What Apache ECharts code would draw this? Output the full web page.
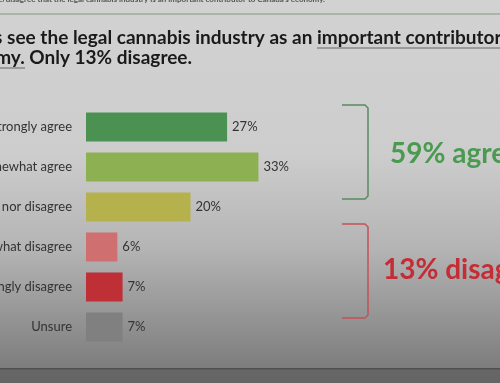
<!DOCTYPE html>
<html><head><meta charset="utf-8">
<script src="https://cdn.jsdelivr.net/npm/echarts@6/dist/echarts.min.js"></script>
<style>html,body{margin:0;padding:0;background:#cfcfcf}#c{width:500px;height:383px}</style>
</head><body><div id="c"></div>
<script>
const categories = ["Strongly agree","Somewhat agree","Neither agree nor disagree","Somewhat disagree","Strongly disagree","Unsure"];
const values = [27,33,20,6,7,7];
const barColors = ["#4b9152","#8db052","#b5b14c","#cf6f70","#bf2f36","#808080"];
const titleLine1a = "Most Canadians see the legal cannabis industry as an ";
const titleLine1b = "important contributor to the";
const titleLine2 = "economy. Only 13% disagree.";
const subText = "Agree/disagree that the legal cannabis industry is an important contributor to Canada's economy.";
const agreeText = "59% agree";
const disagreeText = "13% disagree";

const chart = echarts.init(document.getElementById('c'), null, {renderer:'canvas'});
const FONT = 'Lato';
chart.setOption({
  animation:false,
  backgroundColor:{type:'linear',x:0,y:0,x2:0,y2:1,colorStops:[
    {offset:0,color:'#d2d2d2'},{offset:0.4,color:'#cdcdcd'},{offset:0.65,color:'#b4b4b4'},{offset:0.96,color:'#7d7d7d'},{offset:0.961,color:'#4a4a4a'},{offset:0.967,color:'#666666'},{offset:1,color:'#656565'}]},
  grid:{left:86,top:107,width:209,height:240,containLabel:false,outerBoundsMode:'none'},
  xAxis:{type:'value',min:0,max:40,show:false},
  yAxis:{type:'category',data:categories,inverse:true,
    axisLine:{show:false},axisTick:{show:false},splitLine:{show:false},
    axisLabel:{margin:14,color:'#333',fontFamily:FONT,fontSize:13,hideOverlap:false}},
  series:[{type:'bar',barWidth:29,
    data:values.map((v,i)=>({value:v,itemStyle:{color:barColors[i]}})),
    label:{show:true,position:'right',distance:5,formatter:'{c}%',color:'#333',fontFamily:FONT,fontSize:13}}],
  graphic:[
    {type:'text',x:325,y:-1,style:{text:subText,fill:'#555',font:'bold 8px '+FONT,textAlign:'right',textVerticalAlign:'middle'}},
    {type:'line',shape:{x1:0,y1:14,x2:500,y2:14},style:{stroke:'#9aab9a',lineWidth:1.5}},
    {type:'text',x:317,y:38,style:{text:titleLine1a,fill:'#1a1a1a',font:'bold 19px '+FONT,textAlign:'right',textVerticalAlign:'middle'}},
    {type:'text',x:317,y:38,style:{text:titleLine1b,fill:'#1a1a1a',font:'bold 19px '+FONT,textAlign:'left',textVerticalAlign:'middle'}},
    {type:'line',shape:{x1:317,y1:48,x2:500,y2:48},style:{stroke:'#666',lineWidth:1}},
    {type:'text',x:192,y:58,style:{text:titleLine2,fill:'#1a1a1a',font:'bold 19px '+FONT,textAlign:'right',textVerticalAlign:'middle'}},
    {type:'line',shape:{x1:0,y1:68,x2:25,y2:68},style:{stroke:'#666',lineWidth:1}},
    {type:'polyline',shape:{points:[[342,105],[365,105],[368,108],[368,196],[365,199],[342,199]]},style:{stroke:'#5a8a62',lineWidth:1.5,fill:null}},
    {type:'polyline',shape:{points:[[342,224],[365,224],[368,227],[368,315],[365,318],[342,318]]},style:{stroke:'#c4525a',lineWidth:1.5,fill:null}},
    {type:'text',x:390,y:154,style:{text:agreeText,fill:'#4a9a50',font:'bold 28px '+FONT,textAlign:'left',textVerticalAlign:'middle'}},
    {type:'text',x:383,y:270,style:{text:disagreeText,fill:'#c42c36',font:'bold 28px '+FONT,textAlign:'left',textVerticalAlign:'middle'}}
  ]
});
</script></body></html>
